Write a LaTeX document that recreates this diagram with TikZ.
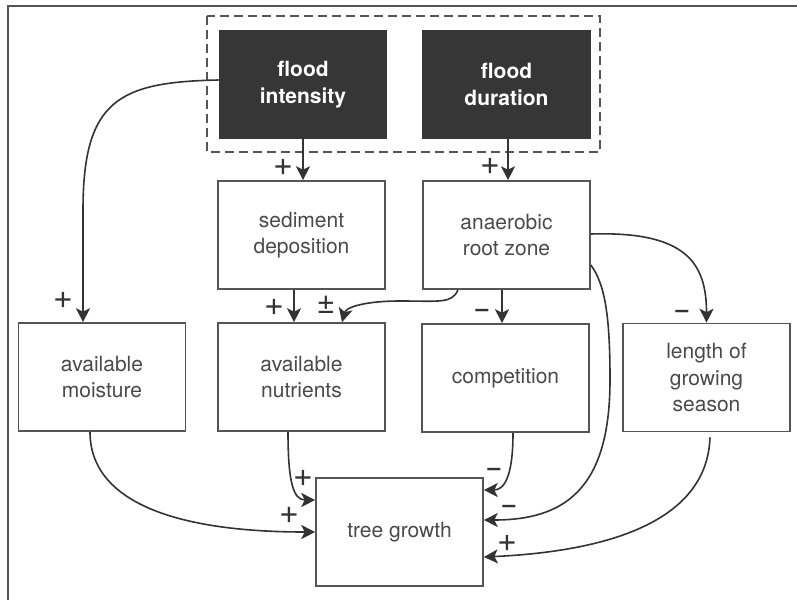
\documentclass[tikz,border=0pt]{standalone}
\usepackage{fontspec}
\setmainfont{TeX Gyre Heros}
\usetikzlibrary{arrows.meta}
\definecolor{boxline}{HTML}{555555}
\definecolor{ink}{HTML}{333333}
\definecolor{darkfill}{HTML}{363636}
\definecolor{txt}{HTML}{4A4A4A}
\begin{document}
\begin{tikzpicture}[x=1pt,y=-1pt,
  box/.style={draw=boxline, line width=1.6pt, minimum width=167pt, minimum height=108pt,
    inner sep=0pt, align=center, text=txt, font=\fontsize{21}{26.5}\selectfont},
  darkbox/.style={box, fill=darkfill, draw=darkfill, text=white,
    font=\fontsize{21}{26.5}\selectfont\bfseries},
  arr/.style={draw=ink, line width=1.6pt, -{Stealth[length=14pt,width=14pt,inset=3.5pt]}},
  sign/.style={text=ink, font=\fontsize{34}{34}\selectfont, inner sep=0pt},
  minus/.style={text=ink, font=\fontsize{23}{23}\selectfont\bfseries, inner sep=0pt},
  pm/.style={text=ink, font=\fontsize{32}{32}\selectfont, inner sep=0pt}]
\useasboundingbox (0,0) rectangle (797,600);
\fill[white] (0,0) rectangle (797,600);
% outer frame (left and top visible)
\draw[boxline, line width=1.6pt] (8,600) -- (8,6) -- (797,6);
% dashed group
\draw[boxline, line width=1.5pt, dash pattern=on 9pt off 5pt] (207,16) rectangle (600,152);

% nodes
\node[darkbox] (fi) at (303,84.5) {flood\\intensity};
\node[darkbox] (fd) at (506.5,84.5) {flood\\duration};
\node[box] (sd) at (301.5,235) {sediment\\deposition};
\node[box] (ar) at (506.5,235) {anaerobic\\root zone};
\node[box] (am) at (102,377) {available\\moisture};
\node[box] (an) at (301.5,377) {available\\nutrients};
\node[box] (co) at (505.5,378) {competition};
\node[box] (lg) at (706.5,377.5) {length of\\growing\\season};
\node[box] (tg) at (399.5,532) {tree growth};

% helper coordinates
\coordinate (m1) at (83,210);
\coordinate (m2) at (400,301);
\coordinate (m3) at (610,380);

% connectors
\draw[arr] (fi.south) -- (fi.south |- sd.north);
\draw[arr] ([xshift=1.5pt]fd.south) -- ([xshift=1.5pt]fd.south |- ar.north);
\draw[arr] ([yshift=4.5pt]fi.west) .. controls +(-100,2) and +(0,-110) .. (m1)
  -- ([xshift=-19pt]am.north);
\draw[arr] ([xshift=-7.5pt]sd.south) -- ([xshift=-7.5pt]sd.south |- an.north);
\draw[arr] ([xshift=-48.5pt]ar.south) .. controls +(-6,14) and +(40,0) .. (m2)
  .. controls +(-35,0) and +(4,-15) .. ([xshift=40.5pt]an.north);
\draw[arr] ([xshift=-4.5pt]ar.south) -- ([xshift=-4.5pt]ar.south |- co.north);
\draw[arr] ([yshift=1pt]ar.east) .. controls +(95,-3) and +(0,-60) .. (lg.north);
\draw[arr] ([yshift=-30pt]ar.east) .. controls +(15,20) and +(0,-60) .. (m3)
  .. controls +(0,110) and +(80,0) .. ([yshift=12pt]tg.east);
\draw[arr] ([xshift=7.5pt]co.south) .. controls +(0,45) and +(20,0) .. ([yshift=42pt]tg.east);
\draw[arr] ([xshift=3.5pt,yshift=-5pt]lg.south) .. controls +(-3,90) and +(110,-5) .. ([yshift=-25pt]tg.east);
\draw[arr] ([xshift=-12pt]am.south) .. controls +(0,70) and +(-140,0) .. (tg.west);
\draw[arr] ([xshift=-13.5pt]an.south) .. controls +(0,50) and +(-22,0) .. ([yshift=32pt]tg.west);

% signs
\node[sign] (s1) at (283,167) {+};
\node[sign] (s2) at (490,166) {+};
\node[sign] (s3) at (63,300) {+};
\node[sign] (s4) at (274,307) {+};
\node[pm] (s5) at (326,305) {±};
\node[minus] (s6) at (482,313) {–};
\node[minus] (s7) at (682,314) {–};
\node[sign] (s8) at (303,478) {+};
\node[sign] (s9) at (289,515) {+};
\node[minus] (s10) at (494,472) {–};
\node[minus] (s11) at (509,509) {–};
\node[sign] (s12) at (507,543) {+};
\end{tikzpicture}
\end{document}
